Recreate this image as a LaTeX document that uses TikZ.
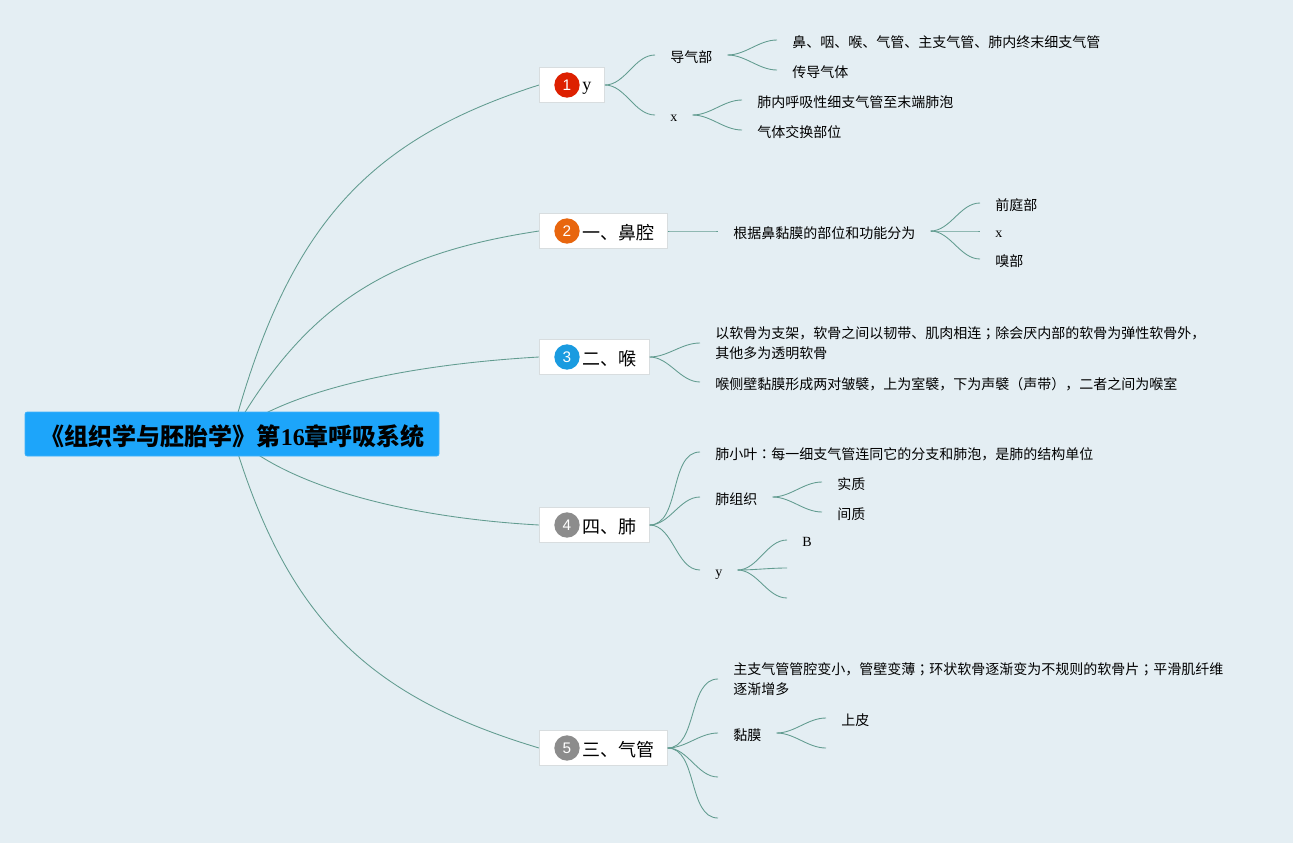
\documentclass[tikz,border=0pt]{standalone}
\usepackage{fontspec}
\setmainfont{Noto Sans CJK SC}
\newfontfamily\lat{Liberation Serif}
\newfontfamily\digitfont{Liberation Sans}
\newfontfamily\tcpunct{Noto Sans CJK TC}
\usetikzlibrary{backgrounds}
\definecolor{paper}{HTML}{E4EEF3}
\definecolor{rootblue}{HTML}{1DA5FA}
\definecolor{branchgreen}{HTML}{629C90}
\definecolor{boxgray}{HTML}{D8DDDF}
\definecolor{badgered}{HTML}{DD2000}
\definecolor{badgeorange}{HTML}{E8660E}
\definecolor{badgeblue}{HTML}{1A9BE0}
\definecolor{badgegray}{HTML}{8C8C8C}
\begin{document}
\begin{tikzpicture}[x=0.75pt, y=-0.75pt,
  root/.style={fill=rootblue, draw=rootblue!85!white, rounded corners=1.5pt, minimum width=310.5pt, minimum height=33pt, inner sep=0pt, text height=16.6pt, text depth=0pt, font=\fontsize{18}{20}\selectfont\bfseries},
  topic/.style={anchor=west, fill=white, draw=boxgray, minimum height=26.5pt, inner ysep=0pt, text height=13pt, text depth=0.5pt, inner xsep=0pt, align=left, font=\fontsize{13.5}{15}\selectfont},
  badge/.style={circle, inner sep=0pt, minimum size=19pt, text=white, font=\digitfont\fontsize{11.5}{12}\selectfont},
  leaf/.style={anchor=west, inner xsep=11.25pt, inner ysep=2pt, align=left, font=\fontsize{10.5}{15}\selectfont},
  oneline/.style={leaf, text height=10.6pt, text depth=0pt},
  branch/.style={draw=branchgreen, line width=0.65pt}]
\node[root] (root) at (232,434) {\hspace{1.5pt}《组织学与胚胎学》第{\lat 16}章呼吸系统};

\node[topic, text height=9pt, text depth=1.5pt] (t1) at (539,85) {\hspace{32.25pt}{\lat y}\hspace{10pt}};
\node[topic] (t2) at (539,231) {\hspace{32.25pt}一、鼻腔\hspace{9.75pt}};
\node[topic] (t3) at (539,357) {\hspace{32.25pt}二、喉\hspace{9.75pt}};
\node[topic] (t4) at (539,525) {\hspace{32.25pt}四、肺\hspace{9.75pt}};
\node[topic] (t5) at (539,748) {\hspace{32.25pt}三、气管\hspace{9.75pt}};

\node[badge, fill=badgered] (b1) at ([xshift=21pt]t1.west) {1};
\node[badge, fill=badgeorange] (b2) at ([xshift=21pt]t2.west) {2};
\node[badge, fill=badgeblue] (b3) at ([xshift=21pt]t3.west) {3};
\node[badge, fill=badgegray] (b4) at ([xshift=21pt]t4.west) {4};
\node[badge, fill=badgegray] (b5) at ([xshift=21pt]t5.west) {5};

\node[oneline] (daoqi) at (655,55) {导气部};
\node[leaf, text height=9.2pt, text depth=0pt] (x1) at (655,115) {\lat x};
\node[oneline] (bi) at (777,40) {鼻、咽、喉、气管、主支气管、肺内终末细支气管};
\node[oneline] (chuan) at (777,70) {传导气体};
\node[oneline] (feinei) at (742,100) {肺内呼吸性细支气管至末端肺泡};
\node[oneline] (jiaohuan) at (742,130) {气体交换部位};

\node[oneline] (genju) at (718,231) {根据鼻黏膜的部位和功能分为};
\node[oneline] (qianting) at (980,203) {前庭部};
\node[leaf, text height=9.2pt, text depth=0pt] (x2) at (980,231) {\lat x};
\node[oneline] (xiu) at (980,259) {嗅部};

\node[leaf] (ruangu) at (700,343) {以软骨为支架，软骨之间以韧带、肌肉相连{\tcpunct ；}除会厌内部的软骨为弹性软骨外，\\其他多为透明软骨};
\node[oneline] (houce) at (700,382) {喉侧壁黏膜形成两对皱襞，上为室襞，下为声襞（声带），二者之间为喉室};

\node[oneline] (xiaoye) at (700,452) {肺小叶{\tcpunct ：}每一细支气管连同它的分支和肺泡，是肺的结构单位};
\node[oneline] (zuzhi) at (700,497) {肺组织};
\node[oneline] (shizhi) at (822,482) {实质};
\node[oneline] (jianzhi) at (822,512) {间质};
\node[leaf, text height=9.9pt, text depth=0pt] (y4) at (700,570) {\lat y};
\node[leaf, text height=9.5pt, text depth=0pt] (b4a) at (787,540) {\lat B};
\coordinate (b4b) at (787,568);
\coordinate (b4c) at (787,598);

\node[leaf] (guanqiang) at (718,679) {主支气管管腔变小，管壁变薄{\tcpunct ；}环状软骨逐渐变为不规则的软骨片{\tcpunct ；}平滑肌纤维\\逐渐增多};
\node[oneline] (nianmo) at (718,733) {黏膜};
\node[oneline] (shangpi) at (826,718) {上皮};
\coordinate (mo2) at (826,748);
\coordinate (t5c) at (718,777);
\coordinate (t5d) at (718,818);

\begin{scope}[on background layer]
\fill[paper] (0,0) rectangle (1293,843);
\draw[branch] (root.center) .. controls (288,226) and (367,140) .. (t1.west);
\draw[branch] (root.center) .. controls (306,305) and (387,254) .. (t2.west);
\draw[branch] (root.center) .. controls (285,392) and (400,365) .. (t3.west);
\draw[branch] (root.center) .. controls (280,482) and (395,517) .. (t4.west);
\draw[branch] (root.center) .. controls (286,617) and (366,696) .. (t5.west);
\end{scope}

\foreach \a/\b in {t1/daoqi,t1/x1,daoqi/bi,daoqi/chuan,x1/feinei,x1/jiaohuan,
  t2/genju,genju/qianting,genju/x2,genju/xiu,t3/ruangu,t3/houce,
  t4/xiaoye,t4/zuzhi,t4/y4,zuzhi/shizhi,zuzhi/jianzhi,y4/b4a,y4/b4b,y4/b4c,
  t5/guanqiang,t5/nianmo,t5/t5c,t5/t5d,nianmo/shangpi,nianmo/mo2}
  \draw[branch] (\a) to[out=0, in=180, looseness=0.9] (\b);
\end{tikzpicture}
\end{document}
